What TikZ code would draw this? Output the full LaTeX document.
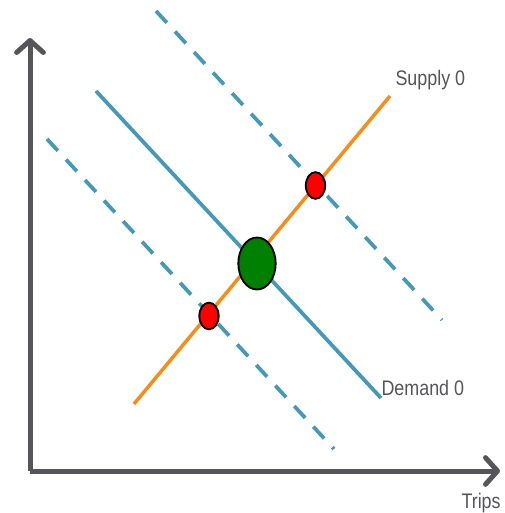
\documentclass[tikz,border=0pt]{standalone}
\usepackage{fontspec}
\usetikzlibrary{arrows.meta,shapes.geometric}
\newfontfamily\labelfont[FakeStretch=0.85]{Liberation Sans}
\definecolor{axisgrey}{RGB}{85,85,90}
\definecolor{demandblue}{RGB}{66,153,186}
\definecolor{supplyorange}{RGB}{250,140,20}
\definecolor{labelgrey}{RGB}{85,85,90}
\tikzset{every picture/.style={line width=0.75pt}}
\tikzset{
  axisline/.style={color=axisgrey, line width=3.75pt, -{Straight Barb[length=9pt,width=20pt,round]}},
  demandline/.style={color=demandblue, line width=2.8pt},
  shiftline/.style={demandline, dash pattern=on 12pt off 9pt},
  supplyline/.style={color=supplyorange, line width=2.6pt},
  eqdot/.style={ellipse, draw=black, line width=1.4pt, inner sep=0pt},
  curvelabel/.style={font=\labelfont\fontsize{15.8}{18}\selectfont, text=labelgrey, inner sep=0pt}
}

\begin{document}
\begin{tikzpicture}[x=0.75pt,y=0.75pt,yscale=-1,xscale=1]
\useasboundingbox (0,0) rectangle (504,513);

%Axes
\coordinate (origin) at (30,471);
\coordinate (ytip) at (30,38);
\coordinate (xtip) at (500,471);
\draw [axisline] (origin) -- (ytip);
\draw [axisline] (origin) -- (xtip);

%Demand curves
\draw [shiftline] (47,139) -- (334,449);
\draw [shiftline] (156,11) -- (442,320);
\draw [demandline] (96,91) -- (381,398);

%Supply curve
\draw [supplyline] (134,404) -- (390,96);

%Equilibrium points
\node [eqdot, fill={rgb,255:red,0;green,128;blue,0}, minimum width=28, minimum height=39] (eq0) at (257,263.5) {};
\node [eqdot, fill={rgb,255:red,255;green,0;blue,0}, minimum width=14.5, minimum height=20] (eqlow) at (209,316) {};
\node [eqdot, fill={rgb,255:red,255;green,0;blue,0}, minimum width=14.5, minimum height=20] (eqhigh) at (315.5,185.5) {};

% Text Node
\node [curvelabel, anchor=base west] (supplylbl) at (395,86) {Supply 0};
% Text Node
\node [curvelabel, anchor=base west] (demandlbl) at (381,395) {Demand 0};
% Text Node
\node [curvelabel, anchor=base west] (tripslbl) at (461,508) {Trips};

\end{tikzpicture}
\end{document}
